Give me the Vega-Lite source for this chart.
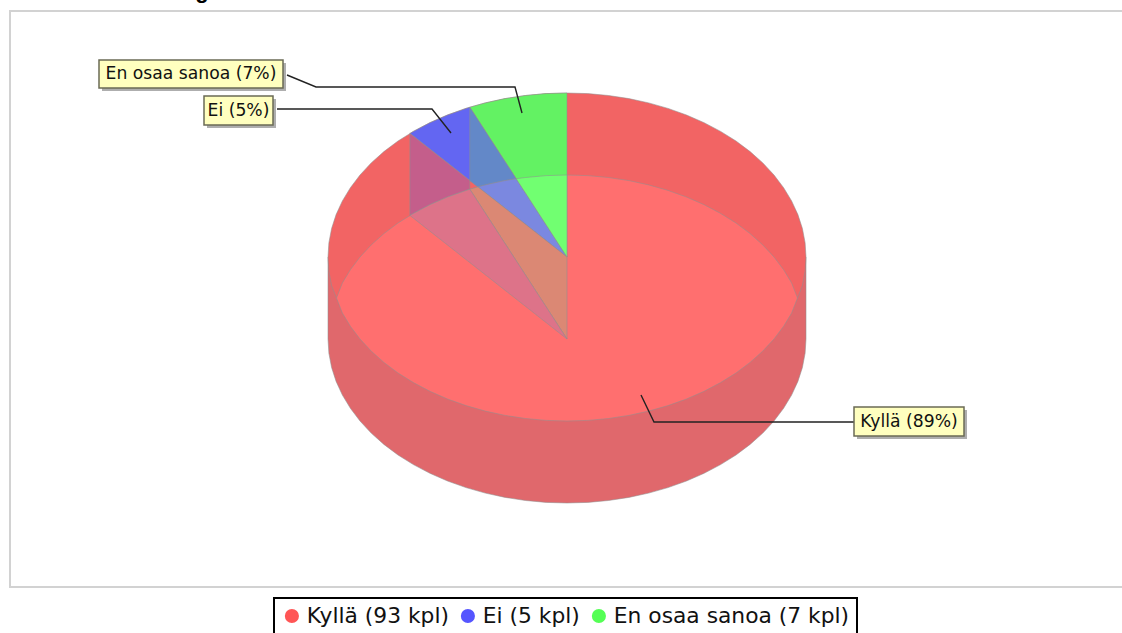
{"$schema":"https://vega.github.io/schema/vega-lite/v6.json","width":1122,"height":633,"autosize":"none","padding":0,"background":"white","view":{"stroke":null},
"config":{"legend":{"orient":"none","legendX":274,"legendY":598,"direction":"horizontal","columns":3,"symbolType":"circle","symbolSize":200,"symbolStrokeWidth":0,"symbolOpacity":1,"labelFont":"DejaVu Sans","labelFontSize":21.8,"labelColor":"#111","labelLimit":400,"strokeColor":"#000","strokeWidth":2,"padding":7,"columnPadding":8,"labelOffset":4}},
"datasets":{
"slices":[
{"name":"Kyllä","kpl":93,"pct":89,"label":"Kyllä (89%)","entry":"Kyllä (93 kpl)","x0":854,"x1":964,"y0":407,"y1":436,"cx":909,"cy":421.5},
{"name":"Ei","kpl":5,"pct":5,"label":"Ei (5%)","entry":"Ei (5 kpl)","x0":204,"x1":273,"y0":96,"y1":125,"cx":238.5,"cy":110.5},
{"name":"En osaa sanoa","kpl":7,"pct":7,"label":"En osaa sanoa (7%)","entry":"En osaa sanoa (7 kpl)","x0":99,"x1":283,"y0":60,"y1":88,"cx":191,"cy":74}],
"leaders":[
{"name":"Kyllä","i":0,"x":641,"y":395},{"name":"Kyllä","i":1,"x":654,"y":422},{"name":"Kyllä","i":2,"x":854,"y":422},
{"name":"Ei","i":0,"x":277,"y":109},{"name":"Ei","i":1,"x":432,"y":109},{"name":"Ei","i":2,"x":451,"y":133},
{"name":"En osaa sanoa","i":0,"x":287,"y":75},{"name":"En osaa sanoa","i":1,"x":316,"y":87},{"name":"En osaa sanoa","i":2,"x":515,"y":87},{"name":"En osaa sanoa","i":3,"x":522,"y":113}],
"frame":[{"i":0,"x":1122,"y":11},{"i":1,"x":10,"y":11},{"i":2,"x":10,"y":587},{"i":3,"x":1122,"y":587}],
"title":[{"t":"g","x":202,"y":-2}],
"shapes":[
{"p":"body","i":0,"x":328,"y":257},{"p":"body","i":1,"x":328,"y":339},{"p":"body","i":2,"x":328.9,"y":353.3},{"p":"body","i":3,"x":331.6,"y":367.5},{"p":"body","i":4,"x":336.1,"y":381.4},{"p":"body","i":5,"x":342.4,"y":395.1},{"p":"body","i":6,"x":350.4,"y":408.3},{"p":"body","i":7,"x":360,"y":421},{"p":"body","i":8,"x":371.2,"y":433.1},{"p":"body","i":9,"x":383.9,"y":444.4},{"p":"body","i":10,"x":398,"y":455},{"p":"body","i":11,"x":413.4,"y":464.6},{"p":"body","i":12,"x":429.9,"y":473.3},{"p":"body","i":13,"x":447.5,"y":481},{"p":"body","i":14,"x":466,"y":487.6},{"p":"body","i":15,"x":485.3,"y":493.1},{"p":"body","i":16,"x":505.1,"y":497.4},{"p":"body","i":17,"x":525.5,"y":500.5},{"p":"body","i":18,"x":546.2,"y":502.4},{"p":"body","i":19,"x":567,"y":503},{"p":"body","i":20,"x":587.8,"y":502.4},{"p":"body","i":21,"x":608.5,"y":500.5},{"p":"body","i":22,"x":628.9,"y":497.4},{"p":"body","i":23,"x":648.7,"y":493.1},{"p":"body","i":24,"x":668,"y":487.6},{"p":"body","i":25,"x":686.5,"y":481},{"p":"body","i":26,"x":704.1,"y":473.3},{"p":"body","i":27,"x":720.6,"y":464.6},{"p":"body","i":28,"x":736,"y":455},{"p":"body","i":29,"x":750.1,"y":444.4},{"p":"body","i":30,"x":762.8,"y":433.1},{"p":"body","i":31,"x":774,"y":421},{"p":"body","i":32,"x":783.6,"y":408.3},{"p":"body","i":33,"x":791.6,"y":395.1},{"p":"body","i":34,"x":797.9,"y":381.4},{"p":"body","i":35,"x":802.4,"y":367.5},{"p":"body","i":36,"x":805.1,"y":353.3},{"p":"body","i":37,"x":806,"y":339},{"p":"body","i":38,"x":806,"y":257},
{"p":"back","i":0,"x":336.5,"y":298},{"p":"back","i":1,"x":331.6,"y":285.5},{"p":"back","i":2,"x":328.9,"y":271.3},{"p":"back","i":3,"x":328,"y":257},{"p":"back","i":4,"x":328.9,"y":242.7},{"p":"back","i":5,"x":331.6,"y":228.5},{"p":"back","i":6,"x":336.1,"y":214.6},{"p":"back","i":7,"x":342.4,"y":200.9},{"p":"back","i":8,"x":350.4,"y":187.7},{"p":"back","i":9,"x":360,"y":175},{"p":"back","i":10,"x":371.2,"y":162.9},{"p":"back","i":11,"x":383.9,"y":151.6},{"p":"back","i":12,"x":398,"y":141},{"p":"back","i":13,"x":413.4,"y":131.4},{"p":"back","i":14,"x":429.9,"y":122.7},{"p":"back","i":15,"x":447.5,"y":115},{"p":"back","i":16,"x":466,"y":108.4},{"p":"back","i":17,"x":485.3,"y":102.9},{"p":"back","i":18,"x":505.1,"y":98.6},{"p":"back","i":19,"x":525.5,"y":95.5},{"p":"back","i":20,"x":546.2,"y":93.6},{"p":"back","i":21,"x":567,"y":93},{"p":"back","i":22,"x":587.8,"y":93.6},{"p":"back","i":23,"x":608.5,"y":95.5},{"p":"back","i":24,"x":628.9,"y":98.6},{"p":"back","i":25,"x":648.7,"y":102.9},{"p":"back","i":26,"x":668,"y":108.4},{"p":"back","i":27,"x":686.5,"y":115},{"p":"back","i":28,"x":704.1,"y":122.7},{"p":"back","i":29,"x":720.6,"y":131.4},{"p":"back","i":30,"x":736,"y":141},{"p":"back","i":31,"x":750.1,"y":151.6},{"p":"back","i":32,"x":762.8,"y":162.9},{"p":"back","i":33,"x":774,"y":175},{"p":"back","i":34,"x":783.6,"y":187.7},{"p":"back","i":35,"x":791.6,"y":200.9},{"p":"back","i":36,"x":797.9,"y":214.6},{"p":"back","i":37,"x":802.4,"y":228.5},{"p":"back","i":38,"x":805.1,"y":242.7},{"p":"back","i":39,"x":806,"y":257},{"p":"back","i":40,"x":805.1,"y":271.3},{"p":"back","i":41,"x":802.4,"y":285.5},{"p":"back","i":42,"x":797.5,"y":298},
{"p":"lens","i":0,"x":336.5,"y":298},{"p":"lens","i":1,"x":342.4,"y":282.9},{"p":"lens","i":2,"x":350.4,"y":269.7},{"p":"lens","i":3,"x":360,"y":257},{"p":"lens","i":4,"x":371.2,"y":244.9},{"p":"lens","i":5,"x":383.9,"y":233.6},{"p":"lens","i":6,"x":398,"y":223},{"p":"lens","i":7,"x":413.4,"y":213.4},{"p":"lens","i":8,"x":429.9,"y":204.7},{"p":"lens","i":9,"x":447.5,"y":197},{"p":"lens","i":10,"x":466,"y":190.4},{"p":"lens","i":11,"x":485.3,"y":184.9},{"p":"lens","i":12,"x":505.1,"y":180.6},{"p":"lens","i":13,"x":525.5,"y":177.5},{"p":"lens","i":14,"x":546.2,"y":175.6},{"p":"lens","i":15,"x":567,"y":175},{"p":"lens","i":16,"x":587.8,"y":175.6},{"p":"lens","i":17,"x":608.5,"y":177.5},{"p":"lens","i":18,"x":628.9,"y":180.6},{"p":"lens","i":19,"x":648.7,"y":184.9},{"p":"lens","i":20,"x":668,"y":190.4},{"p":"lens","i":21,"x":686.5,"y":197},{"p":"lens","i":22,"x":704.1,"y":204.7},{"p":"lens","i":23,"x":720.6,"y":213.4},{"p":"lens","i":24,"x":736,"y":223},{"p":"lens","i":25,"x":750.1,"y":233.6},{"p":"lens","i":26,"x":762.8,"y":244.9},{"p":"lens","i":27,"x":774,"y":257},{"p":"lens","i":28,"x":783.6,"y":269.7},{"p":"lens","i":29,"x":791.6,"y":282.9},{"p":"lens","i":30,"x":797.5,"y":298},{"p":"lens","i":31,"x":791.6,"y":313.1},{"p":"lens","i":32,"x":783.6,"y":326.3},{"p":"lens","i":33,"x":774,"y":339},{"p":"lens","i":34,"x":762.8,"y":351.1},{"p":"lens","i":35,"x":750.1,"y":362.4},{"p":"lens","i":36,"x":736,"y":373},{"p":"lens","i":37,"x":720.6,"y":382.6},{"p":"lens","i":38,"x":704.1,"y":391.3},{"p":"lens","i":39,"x":686.5,"y":399},{"p":"lens","i":40,"x":668,"y":405.6},{"p":"lens","i":41,"x":648.7,"y":411.1},{"p":"lens","i":42,"x":628.9,"y":415.4},{"p":"lens","i":43,"x":608.5,"y":418.5},{"p":"lens","i":44,"x":587.8,"y":420.4},{"p":"lens","i":45,"x":567,"y":421},{"p":"lens","i":46,"x":546.2,"y":420.4},{"p":"lens","i":47,"x":525.5,"y":418.5},{"p":"lens","i":48,"x":505.1,"y":415.4},{"p":"lens","i":49,"x":485.3,"y":411.1},{"p":"lens","i":50,"x":466,"y":405.6},{"p":"lens","i":51,"x":447.5,"y":399},{"p":"lens","i":52,"x":429.9,"y":391.3},{"p":"lens","i":53,"x":413.4,"y":382.6},{"p":"lens","i":54,"x":398,"y":373},{"p":"lens","i":55,"x":383.9,"y":362.4},{"p":"lens","i":56,"x":371.2,"y":351.1},{"p":"lens","i":57,"x":360,"y":339},{"p":"lens","i":58,"x":350.4,"y":326.3},{"p":"lens","i":59,"x":342.4,"y":313.1},
{"p":"blueTop","i":0,"x":409.9,"y":133.4},{"p":"blueTop","i":1,"x":413.4,"y":131.4},{"p":"blueTop","i":2,"x":429.9,"y":122.7},{"p":"blueTop","i":3,"x":447.5,"y":115},{"p":"blueTop","i":4,"x":466,"y":108.4},{"p":"blueTop","i":5,"x":469.8,"y":107.2},{"p":"blueTop","i":6,"x":567,"y":257},
{"p":"greenTop","i":0,"x":469.8,"y":107.2},{"p":"greenTop","i":1,"x":485.3,"y":102.9},{"p":"greenTop","i":2,"x":505.1,"y":98.6},{"p":"greenTop","i":3,"x":525.5,"y":95.5},{"p":"greenTop","i":4,"x":546.2,"y":93.6},{"p":"greenTop","i":5,"x":567,"y":93},{"p":"greenTop","i":6,"x":567,"y":257},
{"p":"purple","i":0,"x":409.9,"y":133.4},{"p":"purple","i":1,"x":469.8,"y":180.5},{"p":"purple","i":2,"x":469.8,"y":189.2},{"p":"purple","i":3,"x":447.5,"y":197},{"p":"purple","i":4,"x":429.9,"y":204.7},{"p":"purple","i":5,"x":413.4,"y":213.4},{"p":"purple","i":6,"x":409.9,"y":215.4},
{"p":"steel","i":0,"x":469.8,"y":107.2},{"p":"steel","i":1,"x":516.2,"y":178.7},{"p":"steel","i":2,"x":505.1,"y":180.6},{"p":"steel","i":3,"x":485.3,"y":184.9},{"p":"steel","i":4,"x":478,"y":186.9},{"p":"steel","i":5,"x":469.8,"y":180.5},
{"p":"lightBlue","i":0,"x":478,"y":186.9},{"p":"lightBlue","i":1,"x":485.3,"y":184.9},{"p":"lightBlue","i":2,"x":505.1,"y":180.6},{"p":"lightBlue","i":3,"x":516.2,"y":178.7},{"p":"lightBlue","i":4,"x":567,"y":257},
{"p":"brightGreen","i":0,"x":516.2,"y":178.7},{"p":"brightGreen","i":1,"x":525.5,"y":177.5},{"p":"brightGreen","i":2,"x":546.2,"y":175.6},{"p":"brightGreen","i":3,"x":567,"y":175},{"p":"brightGreen","i":4,"x":567,"y":257},
{"p":"orange","i":0,"x":469.8,"y":189.2},{"p":"orange","i":1,"x":478,"y":186.9},{"p":"orange","i":2,"x":567,"y":257},{"p":"orange","i":3,"x":567,"y":339},
{"p":"rose","i":0,"x":409.9,"y":215.4},{"p":"rose","i":1,"x":413.4,"y":213.4},{"p":"rose","i":2,"x":429.9,"y":204.7},{"p":"rose","i":3,"x":447.5,"y":197},{"p":"rose","i":4,"x":469.8,"y":189.2},{"p":"rose","i":5,"x":567,"y":339}
]},
"encoding":{},
"layer":[
{"data":{"name":"frame"},"mark":{"type":"line","stroke":"#d2d2d2","strokeWidth":2},"encoding":{"x":{"field":"x","type":"quantitative","scale":{"domain":[0,1122],"nice":false,"zero":false},"axis":null},"y":{"field":"y","type":"quantitative","scale":{"domain":[0,633],"reverse":true,"nice":false,"zero":false},"axis":null},"order":{"field":"i"}}},
{"data":{"name":"shapes"},"mark":{"type":"line","interpolate":"linear-closed","stroke":"#8f8f8f","strokeWidth":1,"strokeOpacity":0.55},"encoding":{"x":{"field":"x","type":"quantitative"},"y":{"field":"y","type":"quantitative"},"order":{"field":"i"},"fill":{"field":"p","type":"nominal","legend":null,"scale":{"domain":["body","back","lens","blueTop","greenTop","purple","steel","lightBlue","brightGreen","orange","rose"],"range":["#E0686C","#F26464","#FF6F6F","#6366F2","#63F263","#C45E8B","#6388C8","#7B88E0","#71FF71","#DB8874","#DD7389"]}}}},
{"data":{"name":"leaders"},"mark":{"type":"line","stroke":"#222","strokeWidth":1.4},"encoding":{"x":{"field":"x","type":"quantitative"},"y":{"field":"y","type":"quantitative"},"order":{"field":"i"},"detail":{"field":"name"}}},
{"data":{"name":"slices"},"mark":{"type":"rect","fill":"#9a9a9a","xOffset":3,"x2Offset":3,"yOffset":3,"y2Offset":3,"opacity":0.8},"encoding":{"x":{"field":"x0","type":"quantitative"},"x2":{"field":"x1"},"y":{"field":"y0","type":"quantitative"},"y2":{"field":"y1"}}},
{"data":{"name":"slices"},"mark":{"type":"rect","fill":"#FFFFBF","stroke":"#6b6b55","strokeWidth":1.5},"encoding":{"x":{"field":"x0","type":"quantitative"},"x2":{"field":"x1"},"y":{"field":"y0","type":"quantitative"},"y2":{"field":"y1"}}},
{"data":{"name":"slices"},"mark":{"type":"text","font":"DejaVu Sans","fontSize":17.2,"color":"#111","align":"center","baseline":"middle"},"encoding":{"x":{"field":"cx","type":"quantitative"},"y":{"field":"cy","type":"quantitative"},"text":{"field":"label"}}},
{"data":{"name":"title"},"mark":{"type":"text","font":"Liberation Sans","fontWeight":"bold","fontSize":22,"color":"#000","align":"center","baseline":"alphabetic","clip":false},"encoding":{"x":{"field":"x","type":"quantitative"},"y":{"field":"y","type":"quantitative"},"text":{"field":"t"}}},
{"data":{"name":"slices"},"mark":{"type":"point","filled":true,"opacity":0},"encoding":{"color":{"field":"entry","type":"nominal","title":null,"sort":null,"scale":{"domain":["Kyllä (93 kpl)","Ei (5 kpl)","En osaa sanoa (7 kpl)"],"range":["#FF5555","#5555FF","#55FF55"]}}}}
]}
